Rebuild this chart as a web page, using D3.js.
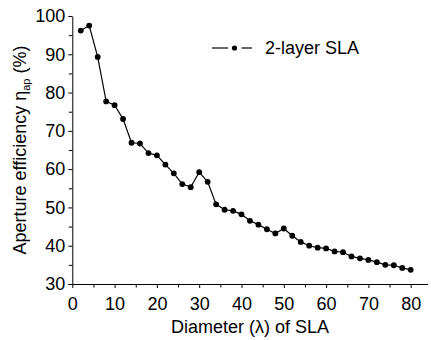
<!DOCTYPE html>
<html>
<head>
<meta charset="utf-8">
<script src="https://cdn.jsdelivr.net/npm/d3@7"></script>
<style>
  body { margin: 0; background: #fff; }
  text { font-family: "Liberation Sans", Arial, sans-serif; fill: #000; }
</style>
</head>
<body>
<div id="viz"></div>
<script>
var w = 431;
var h = 340;

// diameter in wavelengths
var diameters = [2, 4, 6, 8, 10, 12, 14, 16, 18, 20, 22, 24, 26, 28, 30, 32, 34, 36, 38, 40,
    42, 44, 46, 48, 50, 52, 54, 56, 58, 60, 62, 64, 66, 68, 70, 72, 74, 76, 78, 80];
// aperture efficiency (%)
var efficiency = [96.2, 97.5, 89.3, 77.7, 76.7, 73.1, 66.9, 66.7, 64.2, 63.6,
    61.2, 58.9, 56.1, 55.3, 59.2, 56.7, 50.8, 49.4, 49.1, 48.2,
    46.5, 45.5, 44.3, 43.2, 44.5, 42.6, 41.0, 40.0, 39.5, 39.3,
    38.5, 38.3, 37.2, 36.7, 36.3, 35.7, 35.0, 34.9, 34.2, 33.7];
var xTicks = [0, 10, 20, 30, 40, 50, 60, 70, 80];
var yTicks = [30, 40, 50, 60, 70, 80, 90, 100];
var seriesName = "2-layer SLA";

var data = diameters.map(function (d, i) {
    return { d: d, v: efficiency[i] };
});

var padLeft = 72.3, padTop = 16, padBottom = 284;
var fontSize = "18px";

var x = d3.scaleLinear().domain([0, 84]).range([padLeft, padLeft + 84 * 4.23]);
var y = d3.scaleLinear().domain([30, 100]).range([padBottom, padTop]);

var svg = d3.select("#viz")
    .append("svg")
    .attr("width", w)
    .attr("height", h);

// minor ticks
svg.append("g")
    .attr("transform", "translate(0," + padBottom + ")")
    .call(d3.axisBottom(x).tickValues(d3.range(5, 84, 10)).tickSize(3.5).tickFormat(""))
    .call(function (g) { g.select(".domain").remove(); });

svg.append("g")
    .attr("transform", "translate(" + padLeft + ",0)")
    .call(d3.axisLeft(y).tickValues(d3.range(35, 100, 10)).tickSize(3.5).tickFormat(""))
    .call(function (g) { g.select(".domain").remove(); });

// major axes
svg.append("g")
    .attr("transform", "translate(0," + padBottom + ")")
    .call(d3.axisBottom(x).tickValues(xTicks).tickSize(4).tickSizeOuter(0).tickPadding(9));

svg.append("g")
    .attr("transform", "translate(" + padLeft + ",0)")
    .call(d3.axisLeft(y).tickValues(yTicks).tickSize(4).tickSizeOuter(0).tickPadding(3));

svg.selectAll(".tick text")
    .style("font-size", fontSize)
    .style("font-family", "Liberation Sans, Arial, sans-serif");
svg.selectAll(".domain, .tick line").attr("stroke", "#000").attr("stroke-width", 1);

// line + markers
svg.append("path")
    .datum(data)
    .attr("fill", "none")
    .attr("stroke", "#000")
    .attr("stroke-width", 1.2)
    .attr("d", d3.line()
        .x(function (d) { return x(d.d); })
        .y(function (d) { return y(d.v); }));

svg.append("g").selectAll("circle")
    .data(data)
    .enter()
    .append("circle")
    .attr("cx", function (d) { return x(d.d); })
    .attr("cy", function (d) { return y(d.v); })
    .attr("r", 2.9)
    .attr("fill", "#000");

// legend
var legend = svg.append("g").attr("transform", "translate(212,48)");
legend.append("line")
    .attr("x1", 0).attr("x2", 16)
    .attr("stroke", "#000").attr("stroke-width", 1.2);
legend.append("line")
    .attr("x1", 29.5).attr("x2", 40)
    .attr("stroke", "#000").attr("stroke-width", 1.2);
legend.append("circle")
    .attr("cx", 22.5).attr("r", 2.6).attr("fill", "#000");
legend.append("text")
    .attr("x", 53).attr("y", 5.5)
    .style("font-size", fontSize)
    .text(seriesName);

// axis titles
svg.append("text")
    .attr("x", 250)
    .attr("y", 333)
    .attr("text-anchor", "middle")
    .style("font-size", fontSize)
    .text("Diameter (\u03bb) of SLA");

var yt = svg.append("text")
    .attr("transform", "translate(26,150) rotate(-90)")
    .attr("text-anchor", "middle")
    .style("font-size", fontSize);
yt.append("tspan").text("Aperture efficiency \u03b7");
yt.append("tspan").attr("dy", 4).style("font-size", "11px").text("ap");
yt.append("tspan").attr("dy", -4).text(" (%)");
</script>
</body>
</html>
